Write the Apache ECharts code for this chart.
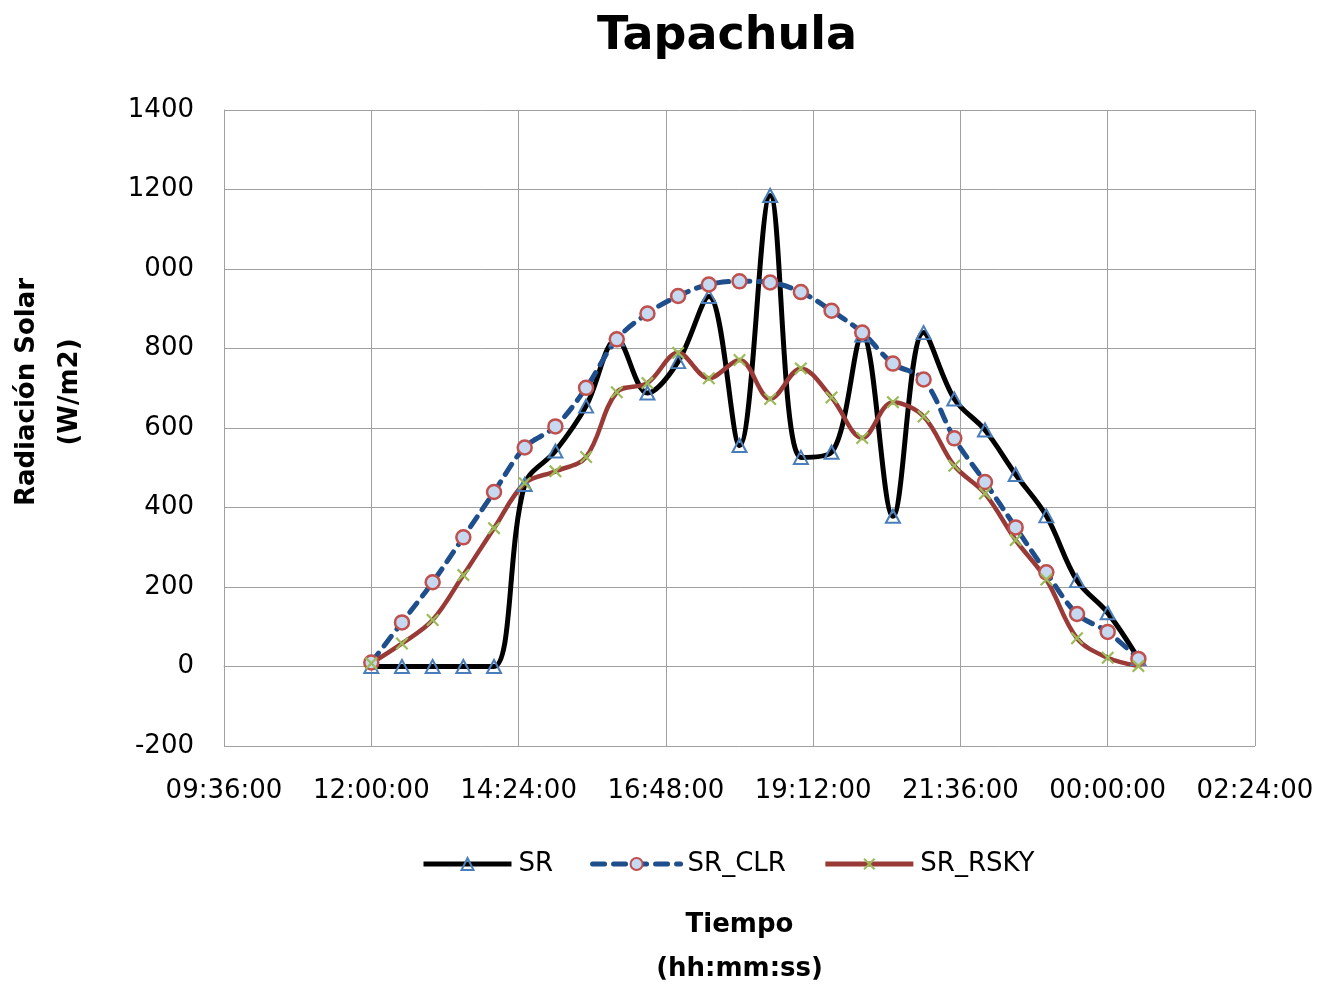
<!DOCTYPE html>
<html>
<head>
<meta charset="utf-8">
<title>Tapachula</title>
<script src="https://cdn.jsdelivr.net/npm/echarts@6/dist/echarts.min.js"></script>
<style>
  html, body { margin: 0; padding: 0; background: #fff; }
  #chart { width: 1335px; height: 988px; }
</style>
</head>
<body>
<div id="chart"></div>
<script>
// Half-hourly sampling times (the last two fall after midnight)
const times = ['12:00','12:30','13:00','13:30','14:00','14:30','15:00','15:30','16:00','16:30',
               '17:00','17:30','18:00','18:30','19:00','19:30','20:00','20:30','21:00','21:30',
               '22:00','22:30','23:00','23:30','00:00','00:30'];

// Solar radiation, W/m2
const srValues   = [0, 0, 0, 0, 0, 458, 542, 655, 824, 688, 767, 931, 556, 1185, 526, 539, 834, 378, 840, 673, 595, 483, 379, 216, 135, 20];
const srClr      = [10, 111, 212, 325, 439, 551, 604, 701, 823, 888, 932, 961, 969, 966, 942, 895, 840, 762, 722, 574, 464, 350, 237, 132, 87, 19];
const srRsky     = [8, 58, 117, 230, 348, 461, 491, 527, 690, 713, 789, 725, 771, 673, 750, 677, 575, 665, 629, 505, 435, 318, 219, 71, 22, 1];

// Y tick labels from -200 up to 1400
const yTickValues = [-200, 0, 200, 400, 600, 800, 1000, 1200, 1400];
const yTickLabels = ['-200', '0', '200', '400', '600', '800', '000', '1200', '1400'];

const FONT = 'DejaVu Sans';

// minutes since midnight of the first day
function toMinutes(t) {
  const [h, m] = t.split(':').map(Number);
  return (h < 9 ? h + 24 : h) * 60 + m;
}
function fmtTime(v) {
  const m = ((Math.round(v) % 1440) + 1440) % 1440;
  const hh = String(Math.floor(m / 60)).padStart(2, '0');
  const mm = String(m % 60).padStart(2, '0');
  return hh + ':' + mm + ':00';
}
const xs = times.map(toMinutes);
const pairs = vals => vals.map((v, i) => [xs[i], v]);

const crossPath = 'path://M0,1.2 L1.2,0 L5,3.8 L8.8,0 L10,1.2 L6.2,5 L10,8.8 L8.8,10 L5,6.2 L1.2,10 L0,8.8 L3.8,5 Z';

const chart = echarts.init(document.getElementById('chart'), null, { renderer: 'canvas' });

chart.setOption({
  animation: false,
  backgroundColor: '#ffffff',
  textStyle: { fontFamily: FONT },
  title: {
    text: 'Tapachula',
    left: 727,
    top: 14,
    padding: 0,
    textAlign: 'center',
    textStyle: { fontFamily: FONT, fontWeight: 'bold', fontSize: 46, color: '#000' }
  },
  grid: { left: 224, right: 80, top: 110, bottom: 242, containLabel: false, outerBoundsMode: 'none' },
  legend: {
    left: 416,
    top: 846,
    itemWidth: 88,
    itemHeight: 15,
    itemGap: 37,
    lineStyle: { width: 5 },
    textStyle: { fontFamily: FONT, fontSize: 26, color: '#000', padding: [0, 0, 0, 2] },
    data: ['SR', 'SR_CLR', 'SR_RSKY']
  },
  graphic: [{
    type: 'text',
    x: 49,
    y: 392,
    rotation: Math.PI / 2,
    style: {
      text: 'Radiación Solar\n(W/m2)',
      fontFamily: FONT,
      fontWeight: 'bold',
      fontSize: 26,
      lineHeight: 43,
      fill: '#000',
      align: 'center',
      verticalAlign: 'middle'
    }
  }],
  xAxis: {
    type: 'value',
    min: 576,
    max: 1584,
    interval: 144,
    name: 'Tiempo\n(hh:mm:ss)',
    nameLocation: 'middle',
    nameGap: 157,
    nameTextStyle: { fontFamily: FONT, fontWeight: 'bold', fontSize: 26, lineHeight: 44, color: '#000' },
    axisLine: { show: true, lineStyle: { color: '#a0a0a0', width: 1 } },
    axisTick: { show: false },
    axisLabel: { formatter: fmtTime, fontFamily: FONT, fontSize: 26, color: '#000', margin: 32 },
    splitLine: { show: true, lineStyle: { color: '#a0a0a0', width: 1 } }
  },
  yAxis: {
    type: 'value',
    min: -200,
    max: 1400,
    interval: 200,
    axisLine: { show: true, lineStyle: { color: '#a0a0a0', width: 1 } },
    axisTick: { show: false },
    axisLabel: {
      formatter: v => yTickLabels[yTickValues.indexOf(v)],
      fontFamily: FONT, fontSize: 26, color: '#000', margin: 30
    },
    splitLine: { show: true, lineStyle: { color: '#a0a0a0', width: 1 } }
  },
  series: [
    {
      name: 'SR',
      type: 'line',
      data: pairs(srValues),
      smooth: 0.35,
      symbol: 'triangle',
      symbolSize: [14, 13],
      lineStyle: { color: '#000000', width: 5 },
      itemStyle: { color: 'rgba(255,255,255,0)', borderColor: '#4a7ebb', borderWidth: 2 },
      emphasis: { disabled: true }
    },
    {
      name: 'SR_CLR',
      type: 'line',
      data: pairs(srClr),
      smooth: 0.35,
      symbol: 'circle',
      symbolSize: 14,
      lineStyle: { color: '#1f4e8c', width: 5, type: [12, 9], cap: 'round' },
      itemStyle: { color: '#c6d9f1', borderColor: '#c0504d', borderWidth: 2.5 },
      emphasis: { disabled: true }
    },
    {
      name: 'SR_RSKY',
      type: 'line',
      data: pairs(srRsky),
      smooth: 0.35,
      symbol: crossPath,
      symbolSize: 13,
      lineStyle: { color: '#993a37', width: 4.5 },
      itemStyle: { color: '#9bbb59', borderWidth: 0 },
      emphasis: { disabled: true }
    }
  ]
});
</script>
</body>
</html>
